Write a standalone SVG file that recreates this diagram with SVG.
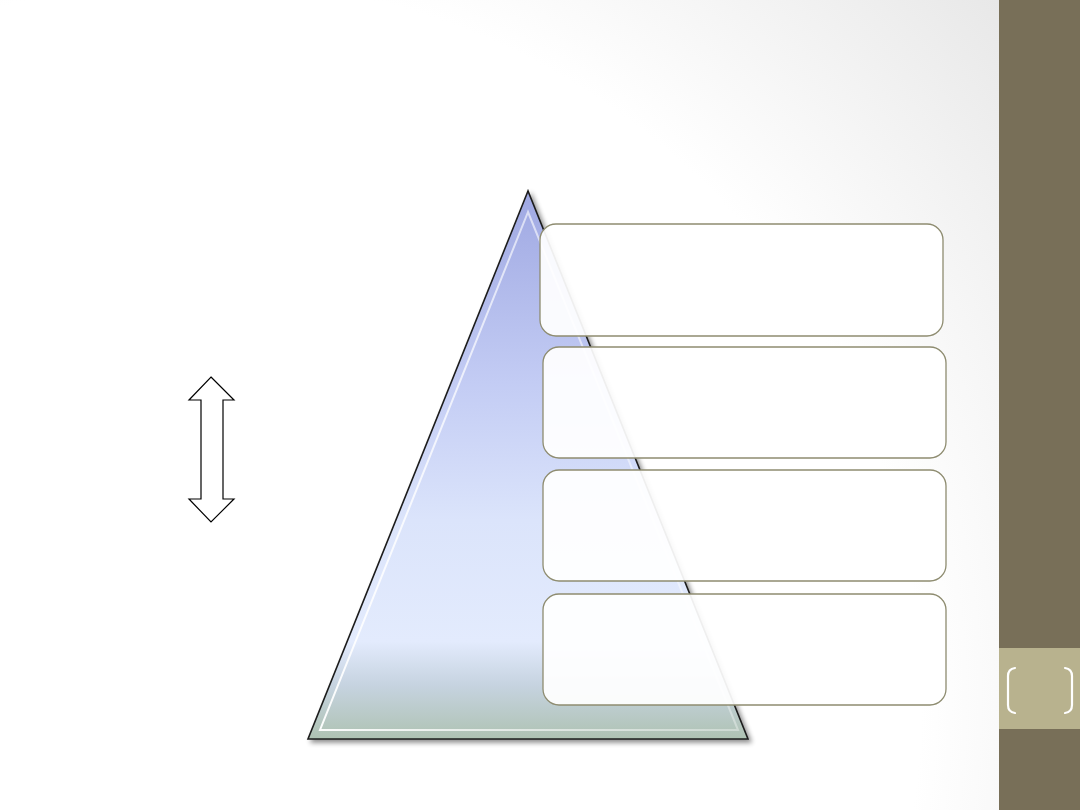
<svg xmlns="http://www.w3.org/2000/svg" width="1080" height="810" viewBox="0 0 1080 810">
  <defs>
    <radialGradient id="bg" cx="200" cy="700" r="1060" gradientUnits="userSpaceOnUse">
      <stop offset="0" stop-color="#ffffff"/>
      <stop offset="0.68" stop-color="#ffffff"/>
      <stop offset="1" stop-color="#e8e8e8"/>
    </radialGradient>
    <linearGradient id="tri" x1="0" y1="191" x2="0" y2="740" gradientUnits="userSpaceOnUse">
      <stop offset="0" stop-color="#9fa8e2"/>
      <stop offset="0.35" stop-color="#c3ccf4"/>
      <stop offset="0.6" stop-color="#dbe4fb"/>
      <stop offset="0.82" stop-color="#e3ebfd"/>
      <stop offset="0.9" stop-color="#c6d3e0"/>
      <stop offset="1" stop-color="#aec2b2"/>
    </linearGradient>
    <linearGradient id="bevel" x1="0" y1="0" x2="1" y2="0">
      <stop offset="0" stop-color="#ffffff" stop-opacity="0.95"/>
      <stop offset="0.5" stop-color="#ffffff" stop-opacity="0.6"/>
      <stop offset="1" stop-color="#ffffff" stop-opacity="0.35"/>
    </linearGradient>
    <filter id="shadow" x="-10%" y="-10%" width="130%" height="130%">
      <feGaussianBlur in="SourceAlpha" stdDeviation="2.5"/>
      <feOffset dx="3" dy="3" result="b"/>
      <feComponentTransfer><feFuncA type="linear" slope="0.45"/></feComponentTransfer>
      <feMerge><feMergeNode/><feMergeNode in="SourceGraphic"/></feMerge>
    </filter>
    <style>
      .box { fill: #ffffff; fill-opacity: 0.93; stroke: #8e8c70; stroke-width: 1.3; }
      .arrow { fill: #ffffff; stroke: #000000; stroke-width: 1.2; stroke-linejoin: miter; }
      .bracket { fill: none; stroke: #ffffff; stroke-width: 2.2; stroke-linecap: round; }
    </style>
  </defs>

  <rect x="0" y="0" width="1080" height="810" fill="url(#bg)"/>

  <!-- sidebar -->
  <rect x="999" y="0" width="81" height="810" fill="#786f58"/>
  <g id="page-tile">
    <rect x="999" y="648" width="81" height="81" fill="#b8b28e"/>
    <path class="bracket" d="M1015,668 Q1008,669 1008,676 L1008,705 Q1008,712 1015,713"/>
    <path class="bracket" d="M1065,668 Q1072,669 1072,676 L1072,705 Q1072,712 1065,713"/>
  </g>

  <!-- pyramid -->
  <g id="pyramid">
    <polygon points="528,191 308,739 748,739" fill="url(#tri)" stroke="#1e1e1e" stroke-width="1.6" stroke-linejoin="miter" filter="url(#shadow)"/>
    <polygon points="528,212 320,730 738,730" fill="none" stroke="url(#bevel)" stroke-width="2"/>
  </g>

  <!-- double arrow -->
  <g id="double-arrow">
    <polygon class="arrow" points="211,377 234,400 223,400 223,499 234,499 211,522 189,499 201,499 201,400 189,400"/>
  </g>

  <!-- boxes -->
  <g id="box1"><rect class="box" x="540" y="224" width="403" height="112" rx="16" ry="16"/></g>
  <g id="box2"><rect class="box" x="543" y="347" width="403" height="111" rx="16" ry="16"/></g>
  <g id="box3"><rect class="box" x="543" y="470" width="403" height="111" rx="16" ry="16"/></g>
  <g id="box4"><rect class="box" x="543" y="594" width="403" height="111" rx="16" ry="16"/></g>

  <g id="connectors"></g>
</svg>
